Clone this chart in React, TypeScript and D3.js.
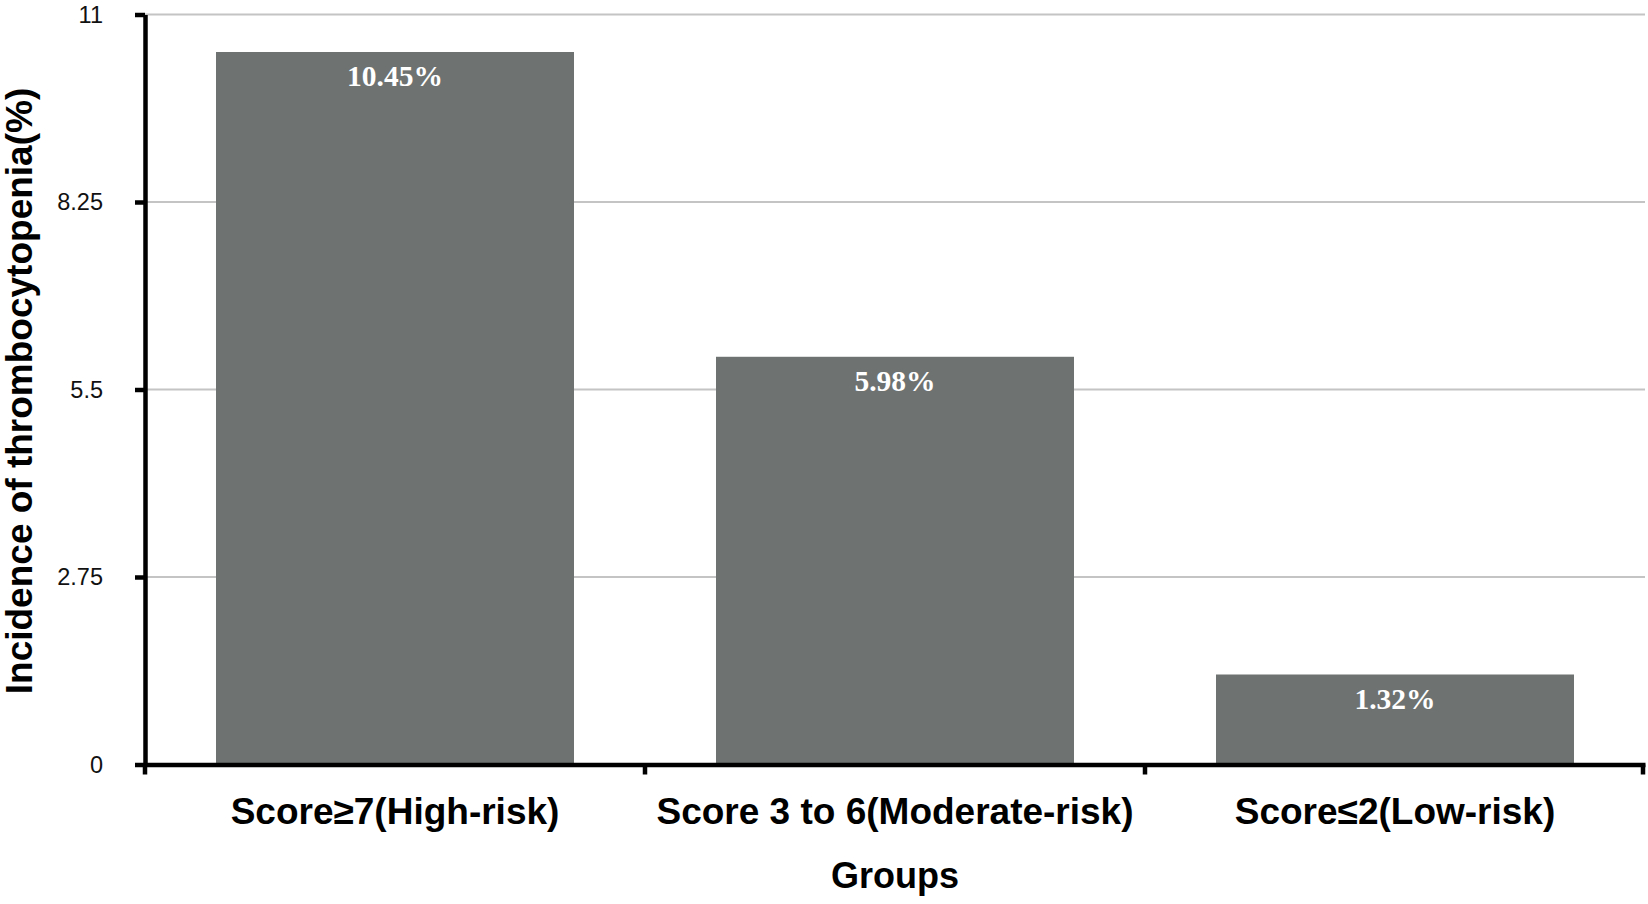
import React, { useEffect, useRef } from 'react';
import * as d3 from 'd3';

const categories = ['Score≥7(High-risk)', 'Score 3 to 6(Moderate-risk)', 'Score≤2(Low-risk)'];
const incidence = [10.45, 5.98, 1.32];
const yTicks = [0, 2.75, 5.5, 8.25, 11];

const W = 1648;
const H = 904;

const App: React.FC = () => {
    const svgRef = useRef<SVGSVGElement>(null);

    useEffect(() => {
        if (!svgRef.current) return;

        const margin = { top: 14.5, right: 3, bottom: 139.5, left: 145 };
        const width = W - margin.left - margin.right;
        const height = H - margin.top - margin.bottom;

        const svg = d3.select(svgRef.current);
        svg.selectAll('*').remove();

        const sans = '"Liberation Sans", Arial, Helvetica, sans-serif';
        const serif = '"Liberation Serif", "Times New Roman", serif';

        const g = svg
            .append('g')
            .attr('transform', `translate(${margin.left}, ${margin.top})`);

        const x = d3.scaleBand<string>()
            .domain(categories)
            .range([0, width])
            .paddingInner(0.284)
            .paddingOuter(0.142);

        const y = d3.scaleLinear()
            .domain([0, 11])
            .range([height, 0]);

        // gridlines
        g.append('g')
            .selectAll('line')
            .data(yTicks.filter(d => d > 0))
            .enter()
            .append('line')
            .attr('x1', 0)
            .attr('x2', width)
            .attr('y1', d => y(d))
            .attr('y2', d => y(d))
            .attr('stroke', '#c4c4c4')
            .attr('stroke-width', 2);

        // bars
        g.selectAll('.bar')
            .data(categories)
            .enter()
            .append('rect')
            .attr('class', 'bar')
            .attr('x', d => x(d) as number)
            .attr('width', x.bandwidth())
            .attr('y', (_, i) => y(incidence[i]))
            .attr('height', (_, i) => height - y(incidence[i]))
            .attr('fill', '#6e7371');

        // bar labels
        g.selectAll('.bar-label')
            .data(categories)
            .enter()
            .append('text')
            .attr('class', 'bar-label')
            .attr('x', d => (x(d) as number) + x.bandwidth() / 2)
            .attr('y', (_, i) => y(incidence[i]) + 34)
            .attr('text-anchor', 'middle')
            .attr('fill', '#ffffff')
            .style('font-family', serif)
            .style('font-weight', 'bold')
            .style('font-size', '29.5px')
            .text((_, i) => `${incidence[i].toFixed(2)}%`);

        // Y axis
        const yAxis = g.append('g')
            .call(d3.axisLeft(y).tickValues(yTicks).tickSize(10).tickSizeOuter(0).tickPadding(32).tickFormat(d => `${d}`));
        yAxis.select('.domain').attr('stroke', '#000').attr('stroke-width', 4.5);
        yAxis.selectAll('.tick line').attr('stroke', '#000').attr('stroke-width', 4.5);
        yAxis.selectAll('.tick text')
            .attr('fill', '#111')
            .style('font-family', sans)
            .style('font-size', '23.5px');

        // X axis (labels at band centres)
        const xAxis = g.append('g')
            .attr('transform', `translate(0, ${height})`)
            .call(d3.axisBottom(x).tickSize(0).tickSizeOuter(0));
        xAxis.select('.domain').attr('stroke', '#000').attr('stroke-width', 4.5);
        xAxis.selectAll('.tick text')
            .attr('y', 33)
            .attr('fill', '#000')
            .style('font-family', sans)
            .style('font-weight', 'bold')
            .style('font-size', '37px');

        // boundary ticks between groups
        const edges = [0, ...categories.map(c => (x(c) as number) + x.bandwidth() + x.step() * x.paddingInner() / 2)];
        xAxis.selectAll('.edge')
            .data(edges)
            .enter()
            .append('line')
            .attr('class', 'edge')
            .attr('x1', d => Math.min(d, width - 2))
            .attr('x2', d => Math.min(d, width - 2))
            .attr('y1', 0)
            .attr('y2', 10)
            .attr('stroke', '#000')
            .attr('stroke-width', 4.5);

        // axis titles
        g.append('text')
            .attr('x', width / 2)
            .attr('y', height + 123)
            .attr('text-anchor', 'middle')
            .style('font-family', sans)
            .style('font-weight', 'bold')
            .style('font-size', '36px')
            .text('Groups');

        svg.append('text')
            .attr('transform', `translate(32, 391) rotate(-90)`)
            .attr('text-anchor', 'middle')
            .style('font-family', sans)
            .style('font-weight', 'bold')
            .style('font-size', '37px')
            .text('Incidence of thrombocytopenia(%)');
    }, []);

    return (
        <svg
            ref={svgRef}
            width={W}
            height={H}
            style={{ position: 'absolute', left: 0, top: 0, background: '#fff' }}
        ></svg>
    );
};

export default App;
